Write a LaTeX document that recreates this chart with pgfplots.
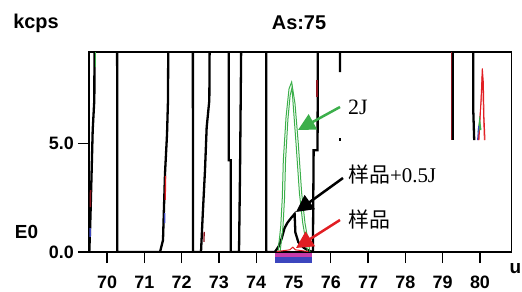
\documentclass[border=0pt]{standalone}
\usepackage{pgfplots}
\pgfplotsset{compat=1.18}
\usepackage{fontspec}
\setmainfont{Liberation Sans}
\newfontfamily\tnr{Liberation Serif}
\newfontfamily\cjk{Noto Sans CJK SC}
\usetikzlibrary{arrows.meta}
\definecolor{sgreen}{RGB}{60,175,75}
\definecolor{sred}{RGB}{225,30,35}
\definecolor{dred}{RGB}{140,20,30}
\definecolor{sblue}{RGB}{60,70,190}
\definecolor{smag}{RGB}{200,60,170}
\begin{document}
\begin{tikzpicture}
\path[use as bounding box] (0,0) rectangle (522bp,292bp);
\pgfplotsset{myaxis/.style={
  at={(89bp,40bp)}, anchor=south west, scale only axis,
  width=422.5bp, height=200bp,
  xmin=69.517, xmax=80.845, ymin=0, ymax=9.19}}
\begin{axis}[myaxis,
  xtick={70,71,...,80}, ytick={0,5}, yticklabels={0.0,5.0},
  tick align=outside, major tick length=11bp,
  xtick pos=bottom, ytick pos=left,
  axis line style={line width=1.2bp},
  every tick/.style={black, line width=1.2bp},
  tick label style={font=\bfseries\fontsize{18}{18}\selectfont},
  /pgf/number format/assume math mode=true,
  xticklabel style={anchor=north, inner sep=0pt, yshift=-13bp},
  yticklabel style={anchor=east, inner sep=0pt, xshift=-4bp},
]
% dark red trace under black at right
\addplot[dred, line width=1.5bp] coordinates {(79.255,12) (79.255,5.14)};
% main black trace
\addplot[black, line width=2.3bp] coordinates {
(69.40,0) (69.525,0) (69.545,1.0) (69.563,2.06) (69.616,5.6) (69.66,7.0) (69.668,12)
(70.27,12) (70.276,0)
(71.421,0) (71.501,0.55) (71.555,3.62) (71.609,5.41) (71.635,6.97) (71.649,12)
(72.30,12) (72.306,0)
(72.520,0) (72.566,1.70) (72.627,3.76) (72.672,5.73) (72.743,6.97) (72.761,12)
(73.263,12) (73.263,4.22) (73.316,4.22) (73.316,0)
(73.539,0) (73.566,3.62) (73.611,12)
(74.266,12) (74.271,0)
(74.50,0) (74.60,0.25) (74.68,0.6) (74.76,1.1) (74.84,1.35) (74.93,1.55) (75.03,1.75)
(75.05,0.9) (75.13,0.45) (75.27,0.2) (75.42,0.05) (75.52,0) (75.54,4.68) (75.645,4.68) (75.655,12)
(76.247,12) (76.247,8.26)};
\addplot[black, line width=2.3bp] coordinates {(76.247,5.12) (76.247,5.25)};
\addplot[black, line width=2.3bp] coordinates {(79.276,12) (79.276,5.14)};
\addplot[black, line width=2.3bp] coordinates {(79.82,12) (79.82,6.5) (79.845,5.14)};
% green 2J curves
\addplot[sgreen, line width=1bp] coordinates {
(74.584,0) (74.657,1.15) (74.70,2.5) (74.727,4.2) (74.80,6.2) (74.88,7.5) (74.95,7.81)
(75.04,6.82) (75.128,4.99) (75.219,2.71) (75.308,1.33) (75.442,0)};
\addplot[sgreen, line width=1bp] coordinates {
(74.64,0) (74.717,1.15) (74.76,2.5) (74.787,4.2) (74.85,6.1) (74.91,7.2) (74.96,7.55)
(74.99,6.8) (75.068,4.99) (75.159,2.71) (75.248,1.33) (75.38,0)};
% red sample curve (tiny)
\addplot[sred, line width=1bp] coordinates {(74.55,0.02) (74.9,0.1) (74.98,0.22) (75.05,0.1) (75.4,0.02)};
% right-side coloured peaks
\addplot[sred, line width=1bp] coordinates {(79.955,5.14) (80.027,6.9) (80.062,8.44) (80.09,7.8) (80.107,6.2) (80.134,5.14)};
\addplot[sred, line width=0.8bp] coordinates {(79.975,5.14) (80.045,7.5) (80.062,8.2) (80.08,7.2) (80.115,5.14)};
\addplot[sgreen, line width=1.5bp] coordinates {(79.955,5.5) (79.99,6.0) (80.02,5.6)};
\addplot[sblue, line width=1bp] coordinates {(79.935,5.14) (79.965,5.8)};
% coloured fragments on black edges
\addplot[dred, line width=1.5bp] coordinates {(69.552,2.06) (69.558,2.84)};
\addplot[sblue, line width=1.5bp] coordinates {(69.545,0.7) (69.548,1.1)};
\addplot[sred, line width=1.3bp] coordinates {(71.562,2.4) (71.568,3.5)};
\addplot[sblue, line width=1.3bp] coordinates {(71.545,1.33) (71.55,1.79)};
\addplot[dred, line width=1.3bp] coordinates {(72.600,0.46) (72.605,0.92)};
\addplot[dred, line width=1.5bp] coordinates {(75.632,7.1) (75.632,7.9)};
\addplot[sgreen, line width=1bp] coordinates {(69.685,8.5) (69.685,9.3)};
\end{axis}
\begin{axis}[myaxis, hide axis, clip=false]
\addplot[fill=smag, draw=none] coordinates {(74.50,-0.03) (75.49,-0.03) (75.49,-0.23) (74.50,-0.23)};
\addplot[fill=sblue, draw=none] coordinates {(74.50,-0.23) (75.49,-0.23) (75.49,-0.50) (74.50,-0.50)};
\end{axis}
\node[font=\bfseries\fontsize{20}{20}\selectfont] at (36bp,269bp) {kcps};
\node[font=\bfseries\fontsize{20}{20}\selectfont] at (299bp,269bp) {As:75};
\node[font=\bfseries\fontsize{19}{19}\selectfont] at (26.5bp,60.5bp) {E0};
\node[font=\bfseries\fontsize{19}{19}\selectfont, anchor=base east, inner sep=0pt] at (521.5bp,19bp) {u};
\draw[sgreen, line width=2.5bp, -{Triangle[length=17bp,width=17bp]}] (340bp,185bp) -- (298bp,162bp);
\draw[black, line width=2.5bp, -{Triangle[length=17bp,width=17bp]}] (343bp,114bp) -- (296bp,80bp);
\draw[sred, line width=2.5bp, -{Triangle[length=17bp,width=17bp]}] (340bp,72bp) -- (296bp,44bp);
\node[anchor=base west, inner sep=0pt, font=\tnr\fontsize{22}{22}\selectfont] at (348bp,177bp) {2J};
\node[anchor=base west, inner sep=0pt, font=\fontsize{21}{21}\selectfont] at (348bp,109bp) {{\cjk 样品}{\tnr +0.5J}};
\node[anchor=base west, inner sep=0pt, font=\fontsize{21}{21}\selectfont] at (348bp,64bp) {\cjk 样品};
\end{tikzpicture}
\end{document}
